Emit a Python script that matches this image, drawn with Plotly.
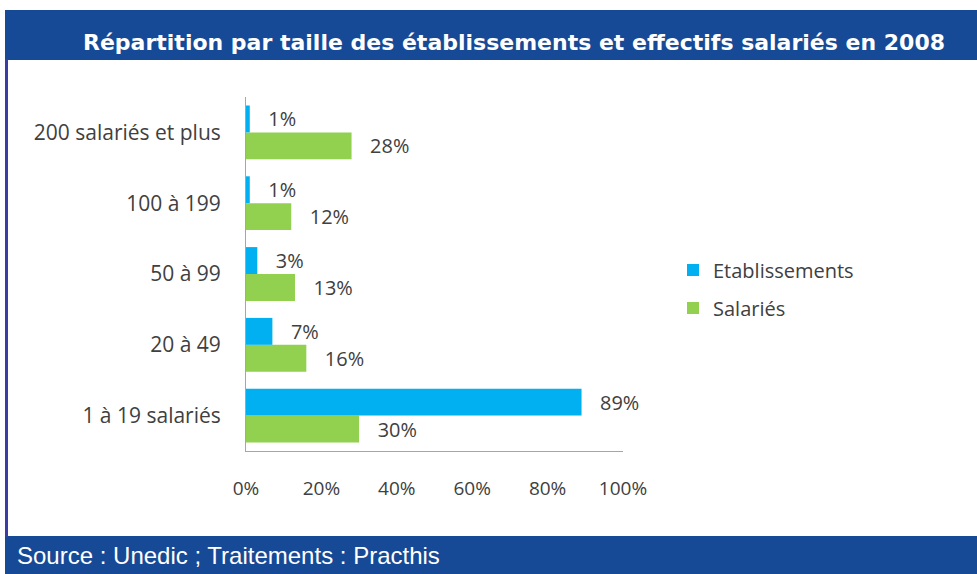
import plotly.graph_objects as go

categories = ["1 à 19 salariés", "20 à 49", "50 à 99", "100 à 199", "200 salariés et plus"]
etablissements = [89, 7, 3, 1, 1]
salaries = [30, 16, 13, 12, 28]
x_ticks = [0, 20, 40, 60, 80, 100]
x_tick_labels = ["0%", "20%", "40%", "60%", "80%", "100%"]

title_text = "Répartition par taille des établissements et effectifs salariés en 2008"
source_text = "Source : Unedic ; Traitements : Practhis"

W, H = 977, 574
L, R, T, B = 246, 623, 97, 451  # plot area pixels


def px(x):
    return (x - L) / (R - L)


def py(y):
    return (B - y) / (B - T)


BLUE = "#00B0F0"
GREEN = "#92D050"
BAR_BG = "#164A96"
TXT = "#404040"
FONT = "Open Sans"
NB = "\u00a0"

fig = go.Figure()
fig.add_trace(go.Bar(
    y=categories, x=salaries, orientation="h", name="Salariés",
    marker=dict(color=GREEN, line=dict(width=0)),
    text=[f"{NB*3}{v}%" for v in salaries], textposition="outside",
    textfont=dict(family=FONT, size=20, color=TXT), cliponaxis=False,
    legend="legend2",
))
fig.add_trace(go.Bar(
    y=categories, x=etablissements, orientation="h", name="Etablissements",
    marker=dict(color=BLUE, line=dict(width=0)),
    text=[f"{NB*3}{v}%" for v in etablissements], textposition="outside",
    textfont=dict(family=FONT, size=20, color=TXT), cliponaxis=False,
    legend="legend",
))

shapes = [
    # title bar
    dict(type="rect", xref="paper", yref="paper", x0=px(5), x1=px(W + 5), y0=py(60), y1=py(10),
         fillcolor=BAR_BG, line=dict(width=0), layer="below"),
    # bottom bar
    dict(type="rect", xref="paper", yref="paper", x0=px(5), x1=px(W + 5), y0=py(H + 5), y1=py(536),
         fillcolor=BAR_BG, line=dict(width=0), layer="below"),
    # left border
    dict(type="rect", xref="paper", yref="paper", x0=px(5), x1=px(8), y0=py(537), y1=py(59),
         fillcolor="#3C3CA6", line=dict(width=0), layer="below"),
]

annotations = [
    dict(text=f"<b>{title_text}</b>", xref="paper", yref="paper", x=px(514), y=py(43),
         xanchor="center", yanchor="middle", showarrow=False,
         font=dict(family="DejaVu Sans", size=22, color="white")),
    dict(text=source_text, xref="paper", yref="paper", x=px(15), y=py(555),
         xanchor="left", yanchor="middle", showarrow=False,
         font=dict(family="Liberation Sans", size=24, color="white")),
]

fig.update_layout(
    width=W, height=H,
    margin=dict(l=L, r=W - R, t=T, b=H - B, pad=0),
    paper_bgcolor="white", plot_bgcolor="white",
    barmode="group", bargap=0.24, bargroupgap=0,
    showlegend=True,
    legend=dict(x=px(673), y=py(270), xanchor="left", yanchor="middle",
                font=dict(family=FONT, size=20, color=TXT), itemwidth=30,
                bgcolor="rgba(0,0,0,0)"),
    legend2=dict(x=px(673), y=py(308), xanchor="left", yanchor="middle",
                 font=dict(family=FONT, size=20, color=TXT), itemwidth=30,
                 bgcolor="rgba(0,0,0,0)"),
    shapes=shapes, annotations=annotations,
    xaxis=dict(range=[0, 100], tickvals=x_ticks, ticktext=x_tick_labels,
               showgrid=False, zeroline=False, showline=True, linecolor="#A6A6A6", linewidth=1,
               ticks="outside", ticklen=20, tickcolor="rgba(0,0,0,0)",
               tickfont=dict(family=FONT, size=19, color=TXT), fixedrange=True),
    yaxis=dict(categoryorder="array", categoryarray=categories, range=[-0.5, 4.5],
               showgrid=False, zeroline=False, showline=True, linecolor="#A6A6A6", linewidth=1,
               ticks="outside", ticklen=20, tickcolor="rgba(0,0,0,0)",
               tickfont=dict(family=FONT, size=21, color=TXT), fixedrange=True),
)

fig.write_html("out.html", config={"displayModeBar": False},
               post_script="document.body.style.margin='0';document.body.style.overflow='hidden';")
